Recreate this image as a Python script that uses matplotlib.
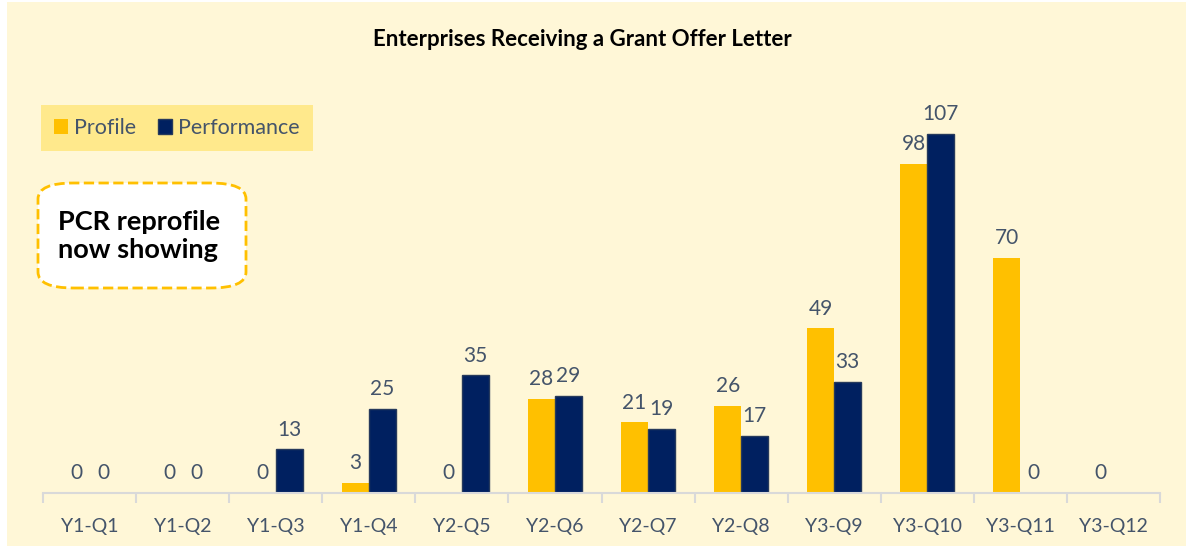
import matplotlib

matplotlib.use("Agg")
import matplotlib.pyplot as plt
import numpy as np
from matplotlib.patches import FancyBboxPatch, Rectangle

quarters = ["Y1-Q1", "Y1-Q2", "Y1-Q3", "Y1-Q4", "Y2-Q5", "Y2-Q6",
            "Y2-Q7", "Y2-Q8", "Y3-Q9", "Y3-Q10", "Y3-Q11", "Y3-Q12"]
profile = [0, 0, 0, 3, 0, 28, 21, 26, 49, 98, 70, 0]
performance = [0, 0, 13, 25, 35, 29, 19, 17, 33, 107, 0, np.nan]

PROFILE_COLOR = "#FFC000"
PERF_COLOR = "#002060"
TEXT_COLOR = "#44546A"
CREAM = "#FFF7D7"

plt.rcParams["font.family"] = ["Lato", "DejaVu Sans"]

fig = plt.figure(figsize=(11.86, 5.48), dpi=100, facecolor="white")
fig.patches.append(Rectangle((7 / 1186, 2 / 548), 1 - 7 / 1186, 1 - 4 / 548,
                             transform=fig.transFigure, facecolor=CREAM,
                             edgecolor="none", zorder=-10))

ax = fig.add_axes([43 / 1186, 55 / 548, (1160 - 43) / 1186, (493 - 90) / 548])
ax.set_facecolor("none")

x = np.arange(len(quarters))
w = 0.29
ax.bar(x - w / 2, profile, width=w, color=PROFILE_COLOR, label="Profile")
ax.bar(x + w / 2, performance, width=w, color=PERF_COLOR, edgecolor="#263a5c",
       linewidth=1.0, label="Performance")

for xi, v in zip(x - w / 2, profile):
    ax.annotate(f"{v:g}", (xi, v), xytext=(0, 7), textcoords="offset points",
                ha="center", va="bottom", fontsize=15, color=TEXT_COLOR)
for xi, v in zip(x + w / 2, performance):
    if np.isnan(v):
        continue
    ax.annotate(f"{v:g}", (xi, v), xytext=(0, 7), textcoords="offset points",
                ha="center", va="bottom", fontsize=15, color=TEXT_COLOR)

ax.set_xlim(-0.5, len(quarters) - 0.5)
ax.set_ylim(0, 120)
ax.set_xticks(x)
ax.set_xticklabels(quarters, fontsize=14, color=TEXT_COLOR)
ax.set_xticks(np.arange(len(quarters) + 1) - 0.5, minor=True)
ax.tick_params(axis="x", which="major", length=0, pad=18)
ax.tick_params(axis="x", which="minor", length=7, width=1.5, color="#D9D9D9")
ax.set_yticks([])
for side in ("left", "right", "top"):
    ax.spines[side].set_visible(False)
ax.spines["bottom"].set_color("#D9D9D9")
ax.spines["bottom"].set_linewidth(1.5)

fig.text(582 / 1186, 1 - 40 / 548, "Enterprises Receiving a Grant Offer Letter",
         ha="center", va="center", fontsize=16, fontweight="bold", color="black")

leg = ax.legend(loc="center left", bbox_to_anchor=(41 / 1186, 1 - 128 / 548),
                bbox_transform=fig.transFigure, ncol=2, frameon=True,
                fancybox=False, fontsize=15.5, handlelength=0.65, handleheight=0.65,
                handletextpad=0.3, columnspacing=1.0, borderpad=0.6,
                borderaxespad=0)
leg.get_frame().set_facecolor("#FFE98C")
leg.get_frame().set_edgecolor("none")
leg.get_frame().set_alpha(1)
for t in leg.get_texts():
    t.set_color(TEXT_COLOR)

fig.patches.append(FancyBboxPatch((38 / 1186, 1 - 288 / 548), 208 / 1186, 105 / 548,
                                  boxstyle="round,pad=0,rounding_size=0.03",
                                  transform=fig.transFigure, facecolor="white",
                                  edgecolor=PROFILE_COLOR, linestyle="--",
                                  linewidth=2, mutation_aspect=548 / 1186 * 2.1))
fig.text(58 / 1186, 1 - 236 / 548, "PCR reprofile\nnow showing", ha="left",
         va="center", fontsize=19.5, fontweight="bold", color="black", linespacing=1.15)

fig.savefig("out.png", dpi=100)
